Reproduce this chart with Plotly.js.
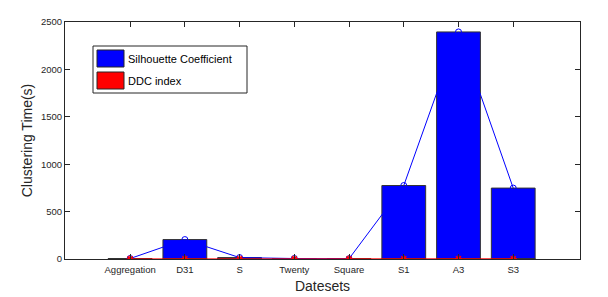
<!DOCTYPE html>
<html><head><meta charset="utf-8">
<script src="https://cdn.plot.ly/plotly-3.0.1.min.js"></script>
<style>html,body{margin:0;padding:0;background:#fff}#chart{width:608px;height:297px}</style>
</head><body><div id="chart"></div>
<script>
const datasets = ["Aggregation","D31","S","Twenty","Square","S1","A3","S3"];
const silhouetteTime = [5, 205, 15, 5, 3, 775, 2395, 748];
const ddcTime = [1, 2, 1, 1, 1, 2, 3, 2];
const seriesNames = ["Silhouette Coefficient","DDC index"];
const seriesColors = ["#0000ff","#ff0000"];
const yTicks = [0,500,1000,1500,2000,2500];

const W=608,H=297,L=65,R=28,T=22,B=38;
const pw=W-L-R, ph=H-T-B;
const px=x=>(x-L)/pw, py=y=>(H-B-y)/ph;

const traces = [
 {type:'bar',x:datasets,y:silhouetteTime,name:seriesNames[0],width:0.8,
  marker:{color:seriesColors[0],line:{color:'#333',width:1}},showlegend:false,hoverinfo:'skip'},
 {type:'bar',x:datasets,y:ddcTime,name:seriesNames[1],width:0.8,
  marker:{color:seriesColors[1],line:{color:'#333',width:1}},showlegend:false,hoverinfo:'skip'},
 {type:'scatter',mode:'lines+markers',x:datasets,y:silhouetteTime,showlegend:false,
  line:{color:seriesColors[0],width:1},marker:{symbol:'circle-open',size:6,color:seriesColors[0],line:{width:1}}},
 {type:'scatter',mode:'lines+markers',x:datasets,y:ddcTime,showlegend:false,
  line:{color:seriesColors[1],width:1},marker:{symbol:'asterisk-open',size:6,color:seriesColors[1],line:{width:1.5,color:seriesColors[1]}}}
];

const shapes=[
 {type:'rect',xref:'paper',yref:'paper',x0:px(93),x1:px(247),y0:py(46),y1:py(93),line:{color:'#262626',width:1},fillcolor:'#fff',layer:'above'},
 {type:'rect',xref:'paper',yref:'paper',x0:px(97),x1:px(124),y0:py(50),y1:py(67),line:{color:'#262626',width:1},fillcolor:seriesColors[0],layer:'above'},
 {type:'rect',xref:'paper',yref:'paper',x0:px(97),x1:px(124),y0:py(72),y1:py(89),line:{color:'#262626',width:1},fillcolor:seriesColors[1],layer:'above'}
];
const annotations=[
 {xref:'paper',yref:'paper',x:px(126),y:py(58.5),text:seriesNames[0],showarrow:false,xanchor:'left',yanchor:'middle',font:{family:'Arial, Liberation Sans',size:11,color:'#000'}},
 {xref:'paper',yref:'paper',x:px(126),y:py(81),text:seriesNames[1],showarrow:false,xanchor:'left',yanchor:'middle',font:{family:'Arial, Liberation Sans',size:11,color:'#000'}}
];

const layout={
 width:W,height:H,margin:{l:L,r:R,t:T,b:B},
 paper_bgcolor:'#fff',plot_bgcolor:'#fff',barmode:'overlay',showlegend:false,
 font:{family:'Arial, Liberation Sans, sans-serif',color:'#262626'},
 xaxis:{type:'category',range:[-1.19,8.22],tickvals:datasets,ticktext:datasets,
  ticks:'inside',ticklen:5,tickcolor:'#262626',showline:true,linecolor:'#262626',linewidth:1,mirror:'ticks',
  showgrid:false,zeroline:false,tickfont:{size:9.5,color:'#262626'},ticklabelstandoff:2,
  title:{text:'Datesets',font:{size:14,color:'#262626'},standoff:6}},
 yaxis:{range:[0,2500],tickvals:yTicks,ticks:'inside',ticklen:5,tickcolor:'#262626',
  showline:true,linecolor:'#262626',linewidth:1,mirror:'ticks',showgrid:false,zeroline:false,
  tickfont:{size:9.5,color:'#262626'},
  title:{text:'Clustering Time(s)',font:{size:14,color:'#262626'},standoff:5}},
 shapes:shapes,annotations:annotations
};
Plotly.newPlot('chart',traces,layout,{staticPlot:true,displayModeBar:false});
</script></body></html>
